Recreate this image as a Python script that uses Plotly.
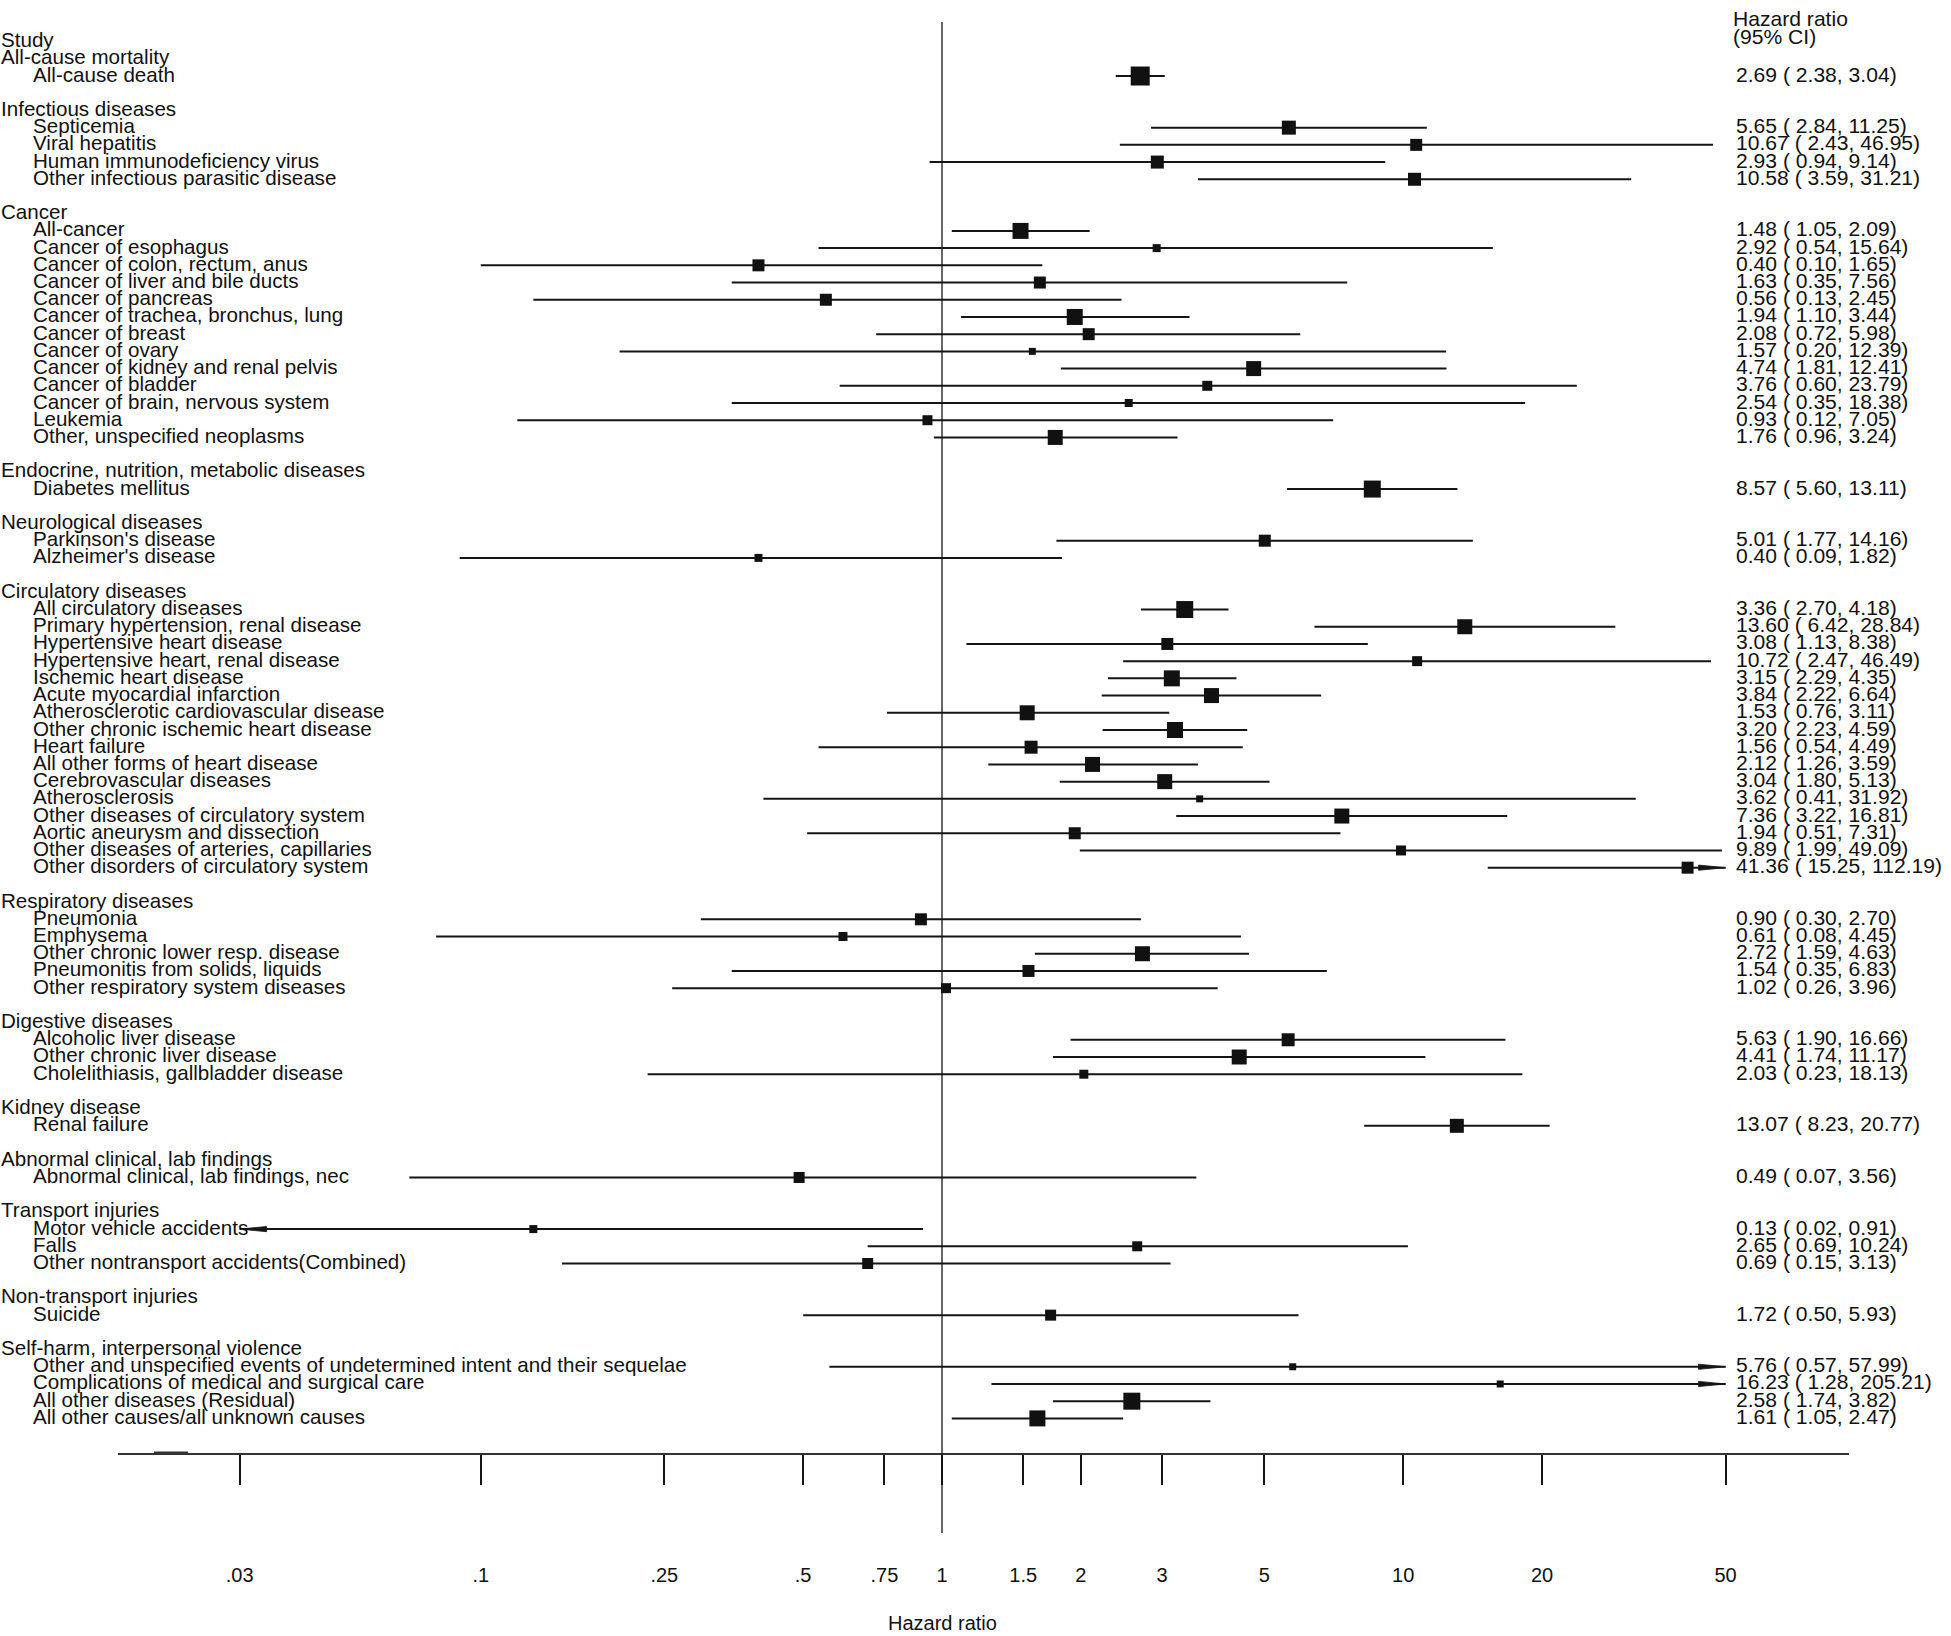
import math
import plotly.graph_objects as go

# ---------------- data ----------------
group_names = [
    "All-cause mortality",
    "Infectious diseases",
    "Cancer",
    "Endocrine, nutrition, metabolic diseases",
    "Neurological diseases",
    "Circulatory diseases",
    "Respiratory diseases",
    "Digestive diseases",
    "Kidney disease",
    "Abnormal clinical, lab findings",
    "Transport injuries",
    "Non-transport injuries",
    "Self-harm, interpersonal violence",
]

outcomes = [
    "All-cause death",
    "Septicemia", "Viral hepatitis", "Human immunodeficiency virus", "Other infectious parasitic disease",
    "All-cancer", "Cancer of esophagus", "Cancer of colon, rectum, anus", "Cancer of liver and bile ducts",
    "Cancer of pancreas", "Cancer of trachea, bronchus, lung", "Cancer of breast", "Cancer of ovary",
    "Cancer of kidney and renal pelvis", "Cancer of bladder", "Cancer of brain, nervous system",
    "Leukemia", "Other, unspecified neoplasms",
    "Diabetes mellitus",
    "Parkinson's disease", "Alzheimer's disease",
    "All circulatory diseases", "Primary hypertension, renal disease", "Hypertensive heart disease",
    "Hypertensive heart, renal disease", "Ischemic heart disease", "Acute myocardial infarction",
    "Atherosclerotic cardiovascular disease", "Other chronic ischemic heart disease", "Heart failure",
    "All other forms of heart disease", "Cerebrovascular diseases", "Atherosclerosis",
    "Other diseases of circulatory system", "Aortic aneurysm and dissection",
    "Other diseases of arteries, capillaries", "Other disorders of circulatory system",
    "Pneumonia", "Emphysema", "Other chronic lower resp. disease", "Pneumonitis from solids, liquids",
    "Other respiratory system diseases",
    "Alcoholic liver disease", "Other chronic liver disease", "Cholelithiasis, gallbladder disease",
    "Renal failure",
    "Abnormal clinical, lab findings, nec",
    "Motor vehicle accidents", "Falls", "Other nontransport accidents(Combined)",
    "Suicide",
    "Other and unspecified events of undetermined intent and their sequelae",
    "Complications of medical and surgical care", "All other diseases (Residual)",
    "All other causes/all unknown causes",
]

outcome_group = [0,
                 1, 1, 1, 1,
                 2, 2, 2, 2, 2, 2, 2, 2, 2, 2, 2, 2, 2,
                 3,
                 4, 4,
                 5, 5, 5, 5, 5, 5, 5, 5, 5, 5, 5, 5, 5, 5, 5, 5,
                 6, 6, 6, 6, 6,
                 7, 7, 7,
                 8,
                 9,
                 10, 10, 10,
                 11,
                 12, 12, 12, 12]

hr = [2.69,
      5.65, 10.67, 2.93, 10.58,
      1.48, 2.92, 0.40, 1.63, 0.56, 1.94, 2.08, 1.57, 4.74, 3.76, 2.54, 0.93, 1.76,
      8.57,
      5.01, 0.40,
      3.36, 13.60, 3.08, 10.72, 3.15, 3.84, 1.53, 3.20, 1.56, 2.12, 3.04, 3.62, 7.36, 1.94, 9.89, 41.36,
      0.90, 0.61, 2.72, 1.54, 1.02,
      5.63, 4.41, 2.03,
      13.07,
      0.49,
      0.13, 2.65, 0.69,
      1.72,
      5.76, 16.23, 2.58, 1.61]

ci_low = [2.38,
          2.84, 2.43, 0.94, 3.59,
          1.05, 0.54, 0.10, 0.35, 0.13, 1.10, 0.72, 0.20, 1.81, 0.60, 0.35, 0.12, 0.96,
          5.60,
          1.77, 0.09,
          2.70, 6.42, 1.13, 2.47, 2.29, 2.22, 0.76, 2.23, 0.54, 1.26, 1.80, 0.41, 3.22, 0.51, 1.99, 15.25,
          0.30, 0.08, 1.59, 0.35, 0.26,
          1.90, 1.74, 0.23,
          8.23,
          0.07,
          0.02, 0.69, 0.15,
          0.50,
          0.57, 1.28, 1.74, 1.05]

ci_high = [3.04,
           11.25, 46.95, 9.14, 31.21,
           2.09, 15.64, 1.65, 7.56, 2.45, 3.44, 5.98, 12.39, 12.41, 23.79, 18.38, 7.05, 3.24,
           13.11,
           14.16, 1.82,
           4.18, 28.84, 8.38, 46.49, 4.35, 6.64, 3.11, 4.59, 4.49, 3.59, 5.13, 31.92, 16.81, 7.31, 49.09, 112.19,
           2.70, 4.45, 4.63, 6.83, 3.96,
           16.66, 11.17, 18.13,
           20.77,
           3.56,
           0.91, 10.24, 3.13,
           5.93,
           57.99, 205.21, 3.82, 2.47]

# box (weight) sizes, in pixels
box_px = [19,
          14, 12, 13, 13,
          16, 8, 12, 12, 12, 16, 12, 7, 15, 10, 8, 10, 15,
          17,
          12, 8,
          17, 15, 12, 10, 16, 15, 15, 16, 13, 15, 15, 7, 15, 12, 10, 12,
          12, 9, 15, 12, 10,
          13, 15, 9,
          14,
          11,
          8, 10, 11,
          11,
          7, 7, 17, 16]

tick_vals = [0.03, 0.1, 0.25, 0.5, 0.75, 1, 1.5, 2, 3, 5, 10, 20, 50]
tick_text = [".03", ".1", ".25", ".5", ".75", "1", "1.5", "2", "3", "5", "10", "20", "50"]

# ---------------- layout constants ----------------
FIG_W, FIG_H = 1951, 1636
M_L, M_R, M_T, M_B = 118, 102, 0, 183
PLOT_W = FIG_W - M_L - M_R
PLOT_H = FIG_H - M_T - M_B
PX_PER_LN = 200.3          # pixels per natural-log unit on x
X_ONE_PX = 942.0           # pixel position of HR = 1
ROW0_PX = 41.6             # pixel of row 0 (markers)
ROW_PX = 17.21             # row spacing
X_MIN_SHOW, X_MAX_SHOW = 0.03, 50.0
FONT = "Liberation Sans, Arial, Helvetica, sans-serif"
INK = "#151515"

LN10 = math.log(10)
x_range = [(M_L - X_ONE_PX) / PX_PER_LN / LN10,
           (FIG_W - M_R - X_ONE_PX) / PX_PER_LN / LN10]
y_range = [(PLOT_H - ROW0_PX) / ROW_PX, (0 - ROW0_PX) / ROW_PX]


def paper_x(px):
    return (px - M_L) / PLOT_W


def paper_y(px):
    return 1 - (px - M_T) / PLOT_H


# ---------------- row assignment ----------------
header_rows = []
item_rows = [None] * len(outcomes)
r = 1
for g, name in enumerate(group_names):
    header_rows.append(r)
    r += 1
    for i, og in enumerate(outcome_group):
        if og == g:
            item_rows[i] = r
            r += 1
    r += 1

# ---------------- traces ----------------
ci_x, ci_y = [], []
arr_x, arr_y = [], []
ARROW_LEN = 27 / PX_PER_LN      # in ln units
ARROW_HALF = 2.6 / ROW_PX       # in rows
for i in range(len(outcomes)):
    lo = max(ci_low[i], X_MIN_SHOW)
    hi = min(ci_high[i], X_MAX_SHOW)
    ci_x += [lo, hi, None]
    ci_y += [item_rows[i], item_rows[i], None]
    yy = item_rows[i]
    if ci_high[i] > X_MAX_SHOW:
        tip = X_MAX_SHOW
        base = tip / math.exp(ARROW_LEN)
        arr_x += [tip, base, base, tip, None]
        arr_y += [yy, yy - ARROW_HALF, yy + ARROW_HALF, yy, None]
    if ci_low[i] < X_MIN_SHOW:
        tip = X_MIN_SHOW
        base = tip * math.exp(ARROW_LEN)
        arr_x += [tip, base, base, tip, None]
        arr_y += [yy, yy - ARROW_HALF, yy + ARROW_HALF, yy, None]

fig = go.Figure()
fig.add_trace(go.Scatter(x=ci_x, y=ci_y, mode="lines",
                         line=dict(color=INK, width=2), hoverinfo="skip",
                         showlegend=False))
fig.add_trace(go.Scatter(x=arr_x, y=arr_y, mode="lines", fill="toself",
                         fillcolor=INK, line=dict(color=INK, width=0.8),
                         hoverinfo="skip", showlegend=False))
fig.add_trace(go.Scatter(x=hr, y=item_rows, mode="markers",
                         marker=dict(symbol="square", size=box_px, color="#111111",
                                     opacity=1, line=dict(width=0)),
                         text=outcomes, hoverinfo="text+x", showlegend=False))

# ---------------- text ----------------
annotations = []
TXT = dict(size=20.6, family=FONT, color="#111111")
TXT_VAL = dict(size=21.1, family=FONT, color="#111111")


def add_text(px_x, row, text, font=TXT, yshift=2):
    annotations.append(dict(xref="paper", yref="y", x=paper_x(px_x), y=row,
                            text=text, showarrow=False, xanchor="left",
                            yanchor="middle", yshift=yshift, font=font,
                            borderpad=0))


add_text(0, 0, "Study")
add_text(1732, -1.25, "Hazard ratio", TXT_VAL)
add_text(1732, -0.2, "(95% CI)", TXT_VAL)
for g, name in enumerate(group_names):
    add_text(0, header_rows[g], name)
for i, name in enumerate(outcomes):
    add_text(32, item_rows[i], name)
    add_text(1735, item_rows[i], f"{hr[i]:.2f} ( {ci_low[i]:.2f}, {ci_high[i]:.2f})", TXT_VAL)

# x-axis title, centred under the line of no effect (HR = 1)
annotations.append(dict(xref="x", yref="paper", x=0, y=paper_y(1623),
                        text="Hazard ratio", showarrow=False, xanchor="center",
                        yanchor="middle", font=dict(size=20, family=FONT, color="#111111")))

shapes = [
    # reference line at HR = 1
    dict(type="line", xref="x", yref="paper", x0=1, x1=1,
         y0=paper_y(1533), y1=paper_y(22), line=dict(color=INK, width=1.3),
         layer="above"),
    # small darker piece of the axis line
    dict(type="line", xref="paper", yref="paper", x0=paper_x(154), x1=paper_x(188),
         y0=0, y1=0, line=dict(color="#333333", width=3.2)),
]

fig.update_layout(
    width=FIG_W, height=FIG_H,
    margin=dict(l=M_L, r=M_R, t=M_T, b=M_B, autoexpand=False),
    paper_bgcolor="white", plot_bgcolor="white",
    font=dict(family=FONT, size=20, color="#111111"),
    annotations=annotations, shapes=shapes, showlegend=False,
    xaxis=dict(type="log", range=x_range, showgrid=False, zeroline=False,
               showline=True, linecolor="#333333", linewidth=1.7,
               ticks="outside", ticklen=30, tickwidth=1.5, tickcolor=INK,
               tickvals=tick_vals, ticktext=tick_text,
               tickfont=dict(size=20, family=FONT, color="#111111"),
               ticklabelstandoff=73,
               automargin=False, fixedrange=True),
    yaxis=dict(range=y_range, visible=False, showgrid=False, zeroline=False,
               fixedrange=True),
)

fig.write_html("out.html",
               config={"displayModeBar": False},
               post_script="document.body.style.margin='0px';"
                           "document.body.style.overflow='hidden';")
